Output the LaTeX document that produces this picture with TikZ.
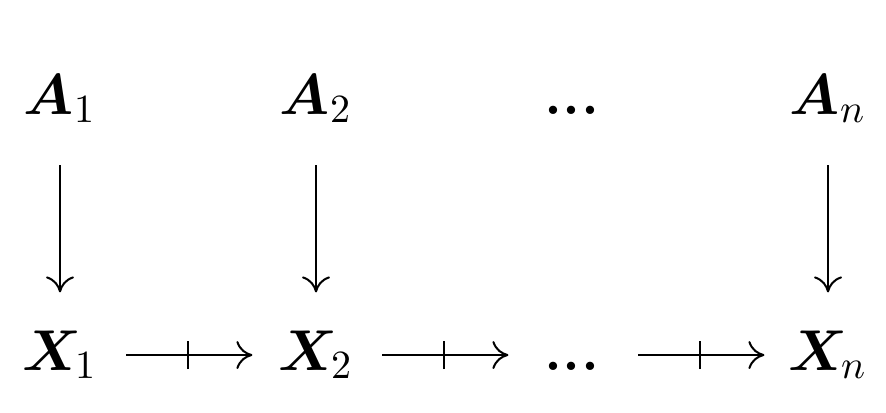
\documentclass[tikz,border=0pt]{standalone}
\usepackage{amsmath}
\usetikzlibrary{arrows.meta,decorations.markings}
\tikzset{
  obj/.style={anchor=base,inner sep=0pt,font=\Large},
  cmto/.style={-{Computer Modern Rightarrow[length=4pt,width=7pt]},line width=0.5pt},
  vmap/.style={cmto,shorten <=12.75pt,shorten >=19.4pt},
  tickmap/.style={cmto,shorten <=16.5pt,shorten >=15.9pt,
    decoration={markings,mark=at position 0.5 with {\draw[line width=0.5pt,-,shorten <=0pt,shorten >=0pt] (0,-3.5pt) -- (0,3.5pt);}},
    postaction={decorate}}
}
\begin{document}
\begin{tikzpicture}
\useasboundingbox (0,0) rectangle (221.5pt,103pt);
\node[obj] (A1) at (15pt,74.5pt) {$\boldsymbol{A}_1$};
\node[obj] (A2) at (79pt,74.5pt) {$\boldsymbol{A}_2$};
\node[obj] (Ad) at (143pt,74.5pt) {\textbf{...}};
\node[obj] (An) at (207pt,74.5pt) {$\boldsymbol{A}_n$};
\node[obj] (X1) at (15pt,10.5pt) {$\boldsymbol{X}_{\!1}$};
\node[obj] (X2) at (79pt,10.5pt) {$\boldsymbol{X}_{\!2}$};
\node[obj] (Xd) at (143pt,10.5pt) {\textbf{...}};
\node[obj] (Xn) at (207pt,10.5pt) {$\boldsymbol{X}_{\!n}$};
\draw[vmap] (A1.base) -- (X1.base);
\draw[vmap] (A2.base) -- (X2.base);
\draw[vmap] (An.base) -- (Xn.base);
\draw[tickmap] ([yshift=3.75pt]X1.base) -- ([yshift=3.75pt]X2.base);
\draw[tickmap] ([yshift=3.75pt]X2.base) -- ([yshift=3.75pt]Xd.base);
\draw[tickmap] ([yshift=3.75pt]Xd.base) -- ([yshift=3.75pt]Xn.base);
\end{tikzpicture}
\end{document}
